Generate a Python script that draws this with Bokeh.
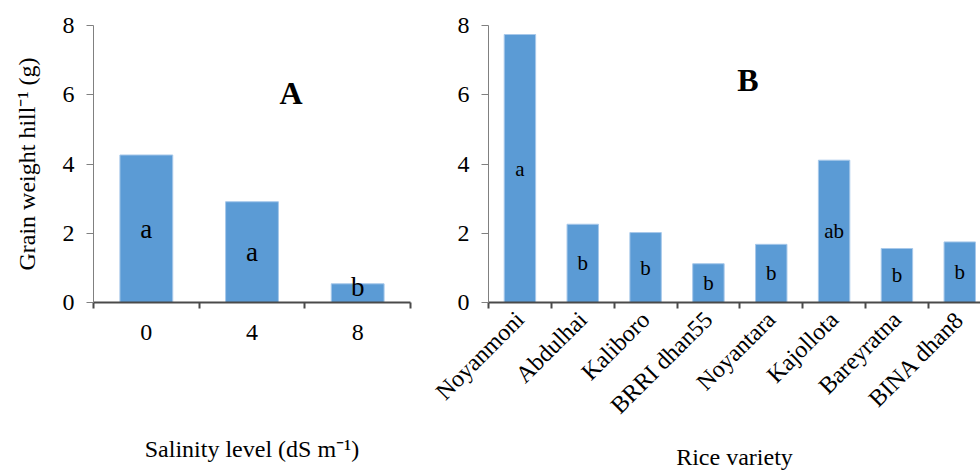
import math
from bokeh.plotting import figure
from bokeh.models import FixedTicker, Label, ColumnDataSource, Range1d
from bokeh.core.properties import value
from bokeh.layouts import row
from bokeh.embed import file_html
from bokeh.resources import INLINE

# ---- data ----
salinity_levels = ["0", "4", "8"]
grain_by_salinity = [4.26, 2.91, 0.54]
letters_salinity = ["a", "a", "b"]

varieties = ["Noyanmoni", "Abdulhai", "Kaliboro", "BRRI dhan55",
             "Noyantara", "Kajollota", "Bareyratna", "BINA dhan8"]
grain_by_variety = [7.74, 2.26, 2.02, 1.12, 1.68, 4.11, 1.56, 1.75]
letters_variety = ["a", "b", "b", "b", "b", "ab", "b", "b"]

y_ticks = [0, 2, 4, 6, 8]

FONT = "Liberation Serif"
BAR = "#5B9BD5"
BAR_EDGE = "#A7C8EA"


def make_panel(cats, vals, letters, width, height, x_end, borders,
               letter_size, panel_letter, panel_xy, xlabel, ylabel,
               rotate, xlabel_standoff):
    n = len(cats)
    p = figure(width=width, height=height, output_backend="svg",
               toolbar_location=None, x_range=Range1d(0, x_end),
               y_range=Range1d(0, 8), min_border_left=borders[0],
               min_border_right=borders[1], min_border_top=borders[2],
               min_border_bottom=borders[3])
    p.outline_line_color = None
    p.grid.visible = False
    p.background_fill_color = "white"

    centers = [i + 0.5 for i in range(n)]
    label_y = [max(v / 2, 0.45) for v in vals]
    src = ColumnDataSource(dict(x=centers, top=vals, ly=label_y, txt=letters))
    p.vbar(x="x", top="top", width=0.5, source=src, fill_color=BAR,
           line_color=BAR_EDGE, line_width=1)
    p.text(x="x", y="ly", text="txt", source=src, text_align="center",
           text_baseline="middle", text_font=value(FONT),
           text_font_size=f"{letter_size}px", text_color="black")

    # y axis
    ya = p.yaxis[0]
    ya.ticker = FixedTicker(ticks=y_ticks)
    ya.axis_line_color = "#808080"
    ya.axis_line_width = 1
    ya.major_tick_line_color = "#808080"
    ya.major_tick_out = 7
    ya.major_tick_in = 0
    ya.minor_tick_line_color = None
    ya.major_label_standoff = 12
    ya.major_label_text_font = FONT
    ya.major_label_text_font_size = "24px"
    ya.major_label_text_color = "black"
    if ylabel:
        ya.axis_label = ylabel
        ya.axis_label_text_font = FONT
        ya.axis_label_text_font_size = "24px"
        ya.axis_label_text_font_style = "normal"
        ya.axis_label_text_color = "black"
        ya.axis_label_standoff = 20

    # x axis: labels at centres, ticks at boundaries (minor ticks)
    xa = p.xaxis[0]
    xa.ticker = FixedTicker(ticks=centers, minor_ticks=list(range(n + 1)))
    xa.major_label_overrides = {c: lab for c, lab in zip(centers, cats)}
    xa.axis_line_color = "#4a4a4a"
    xa.axis_line_width = 2
    xa.major_tick_out = 0
    xa.major_tick_in = 0
    xa.major_tick_line_color = None
    xa.minor_tick_line_color = "#4a4a4a"
    xa.minor_tick_line_width = 2
    xa.minor_tick_out = 6
    xa.minor_tick_in = 0
    xa.major_label_text_font = FONT
    xa.major_label_text_font_size = "24px"
    xa.major_label_text_color = "black"
    if rotate:
        xa.major_label_orientation = math.pi / 4
        xa.major_label_standoff = 7
    else:
        xa.major_label_standoff = 16
    xa.axis_label = xlabel
    xa.axis_label_text_font = FONT
    xa.axis_label_text_font_size = "24px"
    xa.axis_label_text_font_style = "normal"
    xa.axis_label_text_color = "black"
    xa.axis_label_standoff = xlabel_standoff

    p.add_layout(Label(x=panel_xy[0], y=panel_xy[1], text=panel_letter,
                       text_font=FONT, text_font_size="32px",
                       text_font_style="bold", text_align="center",
                       text_baseline="middle", text_color="black"))
    return p


pa = make_panel(salinity_levels, grain_by_salinity, letters_salinity,
                width=430, height=473, x_end=3, borders=(93, 20, 24, 171),
                letter_size=27, panel_letter="A", panel_xy=(1.87, 6.04),
                xlabel="Salinity level (dS m\u207b\u00b9)",
                ylabel="Grain weight hill\u207b\u00b9 (g)", rotate=False,
                xlabel_standoff=93)

pb = make_panel(varieties, grain_by_variety, letters_variety,
                width=550, height=473, x_end=7.83, borders=(58, 0, 25, 169),
                letter_size=21, panel_letter="B", panel_xy=(4.13, 6.42),
                xlabel="Rice variety", ylabel=None, rotate=True,
                xlabel_standoff=13)

layout = row(pa, pb)
open("out.html", "w").write(file_html(layout, INLINE))
